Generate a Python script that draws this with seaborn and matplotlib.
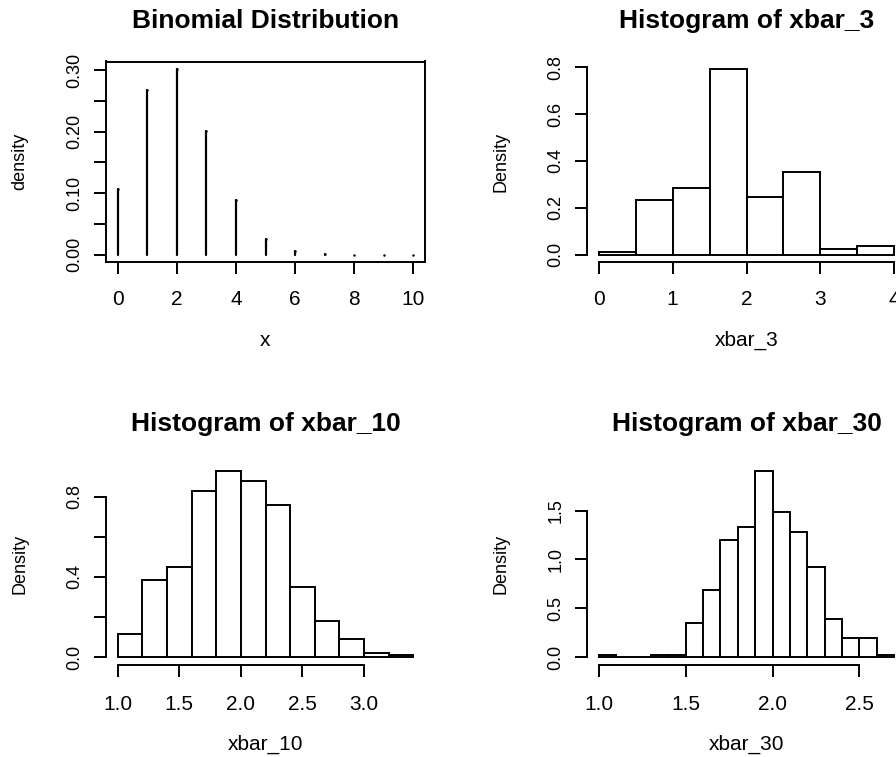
import matplotlib
matplotlib.use("Agg")
from matplotlib import pyplot as plt
import numpy as np
import seaborn as sns

# panel 1: binomial probabilities
binom_x = [0, 1, 2, 3, 4, 5, 6, 7, 8, 9, 10]
binom_density = [0.107, 0.268, 0.302, 0.201, 0.088, 0.026, 0.006, 0.0008, 0.0001, 0.00001, 0.000001]

# panel 2: histogram of xbar_3
xbar3_breaks = [0.0, 0.5, 1.0, 1.5, 2.0, 2.5, 3.0, 3.5, 4.0]
xbar3_density = [0.013, 0.234, 0.286, 0.793, 0.244, 0.353, 0.024, 0.036]

# panel 3: histogram of xbar_10
xbar10_breaks = [1.0, 1.2, 1.4, 1.6, 1.8, 2.0, 2.2, 2.4, 2.6, 2.8, 3.0, 3.2, 3.4]
xbar10_density = [0.117, 0.382, 0.451, 0.827, 0.925, 0.877, 0.758, 0.347, 0.182, 0.090, 0.020, 0.012]

# panel 4: histogram of xbar_30
xbar30_breaks = [1.0, 1.1, 1.2, 1.3, 1.4, 1.5, 1.6, 1.7, 1.8, 1.9, 2.0,
                 2.1, 2.2, 2.3, 2.4, 2.5, 2.6, 2.7]
xbar30_density = [0.025, 0.0, 0.0, 0.025, 0.025, 0.354, 0.683, 1.198, 1.329, 1.902,
                  1.486, 1.284, 0.927, 0.388, 0.199, 0.199, 0.021]

W, H = 896, 757
LW = 1.4
FS_H = 15    # horizontal text
FS_V = 13    # rotated text
FS_T = 19    # titles


def r_range(lo, hi):
    """R-style axis range: data range extended by 4% on each side"""
    d = (hi - lo) * 0.04
    return lo - d, hi + d


def make_axes(fig, left_px, top_px, width_px=319, height_px=200.5):
    return fig.add_axes([left_px / W, (H - top_px - height_px) / H, width_px / W, height_px / H])


def style_axes(ax, title, xlabel, ylabel, xticks, xlabels, yticks, ylabels, row):
    ax.set_xticks(xticks, xlabels, fontsize=FS_H)
    ax.set_yticks(yticks, ylabels, fontsize=FS_V, rotation=90, va="center")
    ax.tick_params(axis="both", direction="out", length=8.6, width=LW, color="black",
                   labelcolor="black")
    ax.tick_params(axis="x", pad=11.5 if row == 0 else 13.5)
    ax.tick_params(axis="y", pad=7.8)
    ax.set_title(title, fontsize=FS_T, fontweight="bold", y=1.166, pad=0, va="baseline",
                 color="black")
    ax.set_xlabel(xlabel, fontsize=FS_H, va="baseline", color="black")
    ax.xaxis.set_label_coords(0.5, -0.419 if row == 0 else -0.425)
    ax.set_ylabel(ylabel, fontsize=FS_V, va="center", color="black")
    ax.yaxis.set_label_coords(-0.27, 0.5)


def hist_panel(ax, breaks, density, title, xlabel, xticks, xlabels, yticks, ylabels, row):
    mids = [(a + b) / 2 for a, b in zip(breaks[:-1], breaks[1:])]
    sns.histplot(x=mids, weights=density, bins=breaks, stat="count", ax=ax,
                 color="white", edgecolor="black", linewidth=LW, alpha=1)
    ax.set_xlim(*r_range(breaks[0], breaks[-1]))
    ax.set_ylim(*r_range(0, max(density)))
    sns.despine(ax=ax)
    ax.spines["left"].set_bounds(yticks[0], yticks[-1])
    ax.spines["bottom"].set_bounds(xticks[0], xticks[-1])
    for s in ("left", "bottom"):
        ax.spines[s].set_linewidth(LW)
        ax.spines[s].set_color("black")
    style_axes(ax, title, xlabel, "Density", xticks, xlabels, yticks, ylabels, row)


sns.set_style("ticks")
plt.rcParams["font.family"] = ["Liberation Sans", "DejaVu Sans"]
plt.rcParams["text.color"] = "black"
plt.rcParams["axes.labelcolor"] = "black"

fig = plt.figure(figsize=(W / 100, H / 100), dpi=100)

# top left: binomial distribution (R type = "h", round line ends)
ax1 = make_axes(fig, 106, 61.5)
ax1.vlines(binom_x, 0, binom_density, colors="black", linewidth=1.6, capstyle="round")
# round line ends stay visible as dots even for near-zero probabilities
sns.scatterplot(x=binom_x, y=binom_density, ax=ax1, color="black", s=3.2, linewidth=0)
ax1.set_xlim(*r_range(min(binom_x), max(binom_x)))
ax1.set_ylim(*r_range(0, max(binom_density)))
for s in ax1.spines.values():
    s.set_linewidth(LW)
    s.set_color("black")
style_axes(ax1, "Binomial Distribution", "x", "density",
           [0, 2, 4, 6, 8, 10], ["0", "2", "4", "6", "8", "10"],
           [0, 0.05, 0.10, 0.15, 0.20, 0.25, 0.30],
           ["0.00", "", "0.10", "", "0.20", "", "0.30"], 0)

# top right: xbar_3
ax2 = make_axes(fig, 587, 61.5)
hist_panel(ax2, xbar3_breaks, xbar3_density, "Histogram of xbar_3", "xbar_3",
           [0, 1, 2, 3, 4], ["0", "1", "2", "3", "4"],
           [0, 0.2, 0.4, 0.6, 0.8], ["0.0", "0.2", "0.4", "0.6", "0.8"], 0)

# bottom left: xbar_10
ax3 = make_axes(fig, 106, 464)
hist_panel(ax3, xbar10_breaks, xbar10_density, "Histogram of xbar_10", "xbar_10",
           [1.0, 1.5, 2.0, 2.5, 3.0], ["1.0", "1.5", "2.0", "2.5", "3.0"],
           [0, 0.2, 0.4, 0.6, 0.8], ["0.0", "", "0.4", "", "0.8"], 1)

# bottom right: xbar_30
ax4 = make_axes(fig, 587, 464)
hist_panel(ax4, xbar30_breaks, xbar30_density, "Histogram of xbar_30", "xbar_30",
           [1.0, 1.5, 2.0, 2.5], ["1.0", "1.5", "2.0", "2.5"],
           [0, 0.5, 1.0, 1.5], ["0.0", "0.5", "1.0", "1.5"], 1)

fig.savefig("out.png", dpi=100)
